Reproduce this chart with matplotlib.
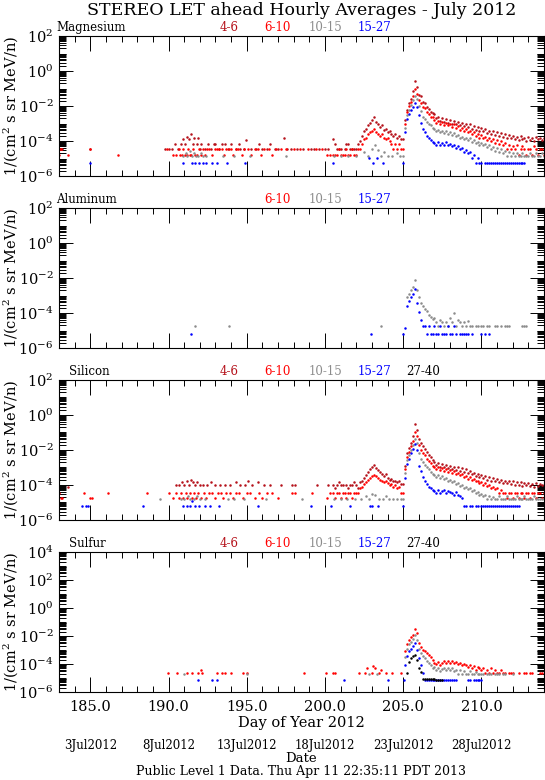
from __future__ import annotations

from datetime import date, timedelta
from pathlib import Path

import matplotlib

matplotlib.use("Agg")
import matplotlib.pyplot as plt
import numpy as np
from matplotlib.ticker import FixedLocator, FuncFormatter, NullFormatter
from matplotlib.transforms import blended_transform_factory


# ---- data: log10 of hourly-average intensity ----
X_RANGE = (183.0, 214.0)
MAJOR_DAYS = [185, 190, 195, 200, 205, 210]

PRE_START = 200.5     # dense pre-event stretch, 3-hour cadence
EVENT_START = 205.0   # main event stretch, 3-hour cadence
STEP = 0.125

ENERGY_LABELS = ["4-6", "6-10", "10-15", "15-27", "27-40"]
ENERGY_COLORS = ["#b5121b", "#ff0000", "#8c8c8c", "#0000ff", "#000000"]

# Magnesium
MG_46_BG = [(183.0, -4.46), (183.1, -4.46), (183.2, -4.46), (185.0, -4.46), (189.8, -4.46),
            (190.0, -4.46), (190.2, -4.46), (190.4, -4.15), (190.6, -4.46), (190.8, -4.15),
            (190.9, -3.9), (191.05, -4.15), (191.15, -3.75), (191.3, -3.9), (191.45, -3.6),
            (191.55, -4.15), (191.65, -3.8), (191.8, -4.15), (191.9, -3.85), (192.0, -4.46),
            (192.1, -4.15), (192.3, -4.46), (192.5, -4.15), (192.7, -4.46), (192.9, -4.15),
            (193.0, -4.15), (193.2, -4.46), (193.4, -4.15), (193.6, -4.15), (193.8, -4.46),
            (194.0, -4.15), (194.3, -4.46), (194.5, -4.15), (194.6, -4.46), (194.8, -4.46),
            (194.95, -3.95), (195.3, -4.46), (195.6, -4.46), (195.8, -4.15), (196.0, -4.46),
            (196.3, -4.46), (196.5, -4.15), (196.8, -4.46), (197.0, -4.46), (197.35, -3.8),
            (197.6, -4.46), (197.8, -4.46), (198.2, -4.46), (198.6, -4.46), (199.1, -4.46),
            (199.3, -4.46), (199.6, -4.46), (200.0, -4.46), (200.2, -4.46)]
MG_610_BG = [(183.0, -4.78), (183.05, -4.46), (183.15, -4.46), (183.6, -4.78), (185.0, -4.46),
             (186.8, -4.78), (189.9, -4.46), (190.3, -4.78), (190.5, -4.78), (190.65, -4.46),
             (190.75, -4.78), (190.85, -4.78), (190.95, -4.46), (191.05, -4.78), (191.15, -4.78),
             (191.25, -4.46), (191.35, -4.78), (191.45, -4.78), (191.55, -4.46), (191.7, -4.78),
             (191.8, -4.78), (191.95, -4.46), (192.05, -4.78), (192.2, -4.46), (192.35, -4.78),
             (192.45, -4.46), (192.6, -4.46), (192.8, -4.78), (192.95, -4.46), (193.1, -4.46),
             (193.25, -4.46), (193.4, -4.46), (193.55, -4.78), (193.7, -4.46), (193.85, -4.46),
             (194.0, -4.46), (194.15, -4.78), (194.3, -4.46), (194.45, -4.46), (194.7, -4.78),
             (194.85, -4.46), (195.1, -4.46), (195.3, -4.78), (195.5, -4.46), (195.75, -4.46),
             (195.9, -4.78), (196.1, -4.46), (196.4, -4.46), (196.6, -4.78), (196.9, -4.46),
             (197.2, -4.46), (197.5, -4.46), (198.0, -4.46), (198.4, -4.46), (198.9, -4.46),
             (199.4, -4.46), (199.8, -4.46), (200.1, -4.78), (200.3, -4.78)]
MG_1015_BG = [(190.9, -4.85), (191.1, -4.7), (191.2, -4.85), (191.4, -4.55), (191.5, -4.85),
              (191.6, -4.7), (191.75, -4.85), (191.9, -4.85), (192.05, -4.7), (192.2, -4.85),
              (192.4, -4.85), (193.5, -4.85), (194.2, -4.85), (195.2, -4.85), (197.5, -4.85),
              (200.6, -4.85), (201.0, -4.85), (201.5, -4.85), (202.0, -4.85), (202.5, -4.6),
              (202.75, -4.85), (203.0, -4.45), (203.2, -4.2), (203.4, -4.5), (203.6, -4.85),
              (203.8, -4.6), (204.0, -4.85), (204.3, -4.85), (204.6, -4.7), (204.8, -4.85)]
MG_1527_BG = [(185.0, -5.25), (190.9, -5.25), (191.5, -5.25), (191.7, -5.25), (191.95, -5.25),
              (192.2, -5.25), (192.4, -5.25), (192.8, -5.25), (193.1, -5.25), (193.75, -5.25),
              (194.9, -5.25), (200.5, -5.25), (202.8, -4.95), (203.1, -5.25), (203.3, -4.95),
              (203.7, -5.25)]
MG_46_PRE = [-3.9, -4.15, -4.46, -4.46, -4.46, None, -4.46, -4.15,
             -4.15, -4.46, -4.46, -4.46, -4.46, -4.15, -4.0, -3.7,
             -3.45, -3.3, -3.1, -2.95, -2.8, -2.65, -2.9, -3.0,
             -3.2, -3.1, -3.35, -3.3, -3.5, -3.4, -3.6, -3.7,
             -3.6, -3.8, -3.7, -3.9]
MG_610_PRE = [-4.78, -4.78, -4.78, -4.46, -4.78, -4.78, -4.78, -4.46,
              -4.78, -4.78, -4.46, -4.78, -4.78, -4.46, -4.46, -4.15,
              -3.9, -3.8, -3.6, -3.5, -3.4, -3.3, -3.5, -3.6,
              -3.7, -3.6, -3.8, -3.9, -3.8, -4.0, -4.15, -4.46,
              -4.15, -4.46, -4.15, -4.46]
MG_46_EVENT = [-3.9, -2.8, -2.2, -1.85, -1.6, -1.15, -0.55, -0.9,
               -1.35, -1.45, -1.75, -1.85, -2.05, -2.15, -2.35, -2.4,
               -2.45, -2.7, -2.6, -2.85, -2.7, -2.9, -2.75, -2.95,
               -2.8, -3.0, -2.85, -3.05, -2.9, -3.1, -2.95, -3.15,
               -3.0, -3.2, -3.05, -3.3, -3.15, -3.35, -3.2, -3.4,
               -3.25, -3.45, -3.3, -3.55, -3.4, -3.6, -3.45, -3.65,
               -3.5, -3.7, -3.55, -3.75, -3.6, -3.8, -3.65, -3.85,
               -3.7, -3.9, -3.75, -3.95, -3.7, -3.9, -3.8, -4.0,
               -3.75, -3.95, -3.8, -4.0, -3.75, -3.9, -3.8, -3.95,
               -3.85]
MG_610_EVENT = [-4.46, -3.0, -2.35, -2.0, -1.75, -1.4, -1.05, -1.3,
                -1.65, -1.8, -2.05, -2.1, -2.35, -2.45, -2.6, -2.65,
                -2.8, -2.95, -2.85, -3.05, -2.9, -3.1, -2.95, -3.1,
                -3.0, -3.2, -3.05, -3.25, -3.15, -3.35, -3.25, -3.45,
                -3.3, -3.5, -3.4, -3.6, -3.5, -3.7, -3.6, -3.8,
                -3.65, -3.85, -3.75, -3.95, -3.8, -4.0, -3.9, -4.1,
                -3.95, -4.15, -4.0, -4.2, -4.1, -4.46, -4.2, -4.46,
                -4.3, -4.46, -4.25, -4.78, -4.46, -4.3, -4.46, -4.78,
                -4.46, -4.46, -4.78, -4.3, -4.46, -4.78, -4.46, -4.46,
                -4.78]
MG_1015_EVENT = [-4.85, -3.25, -2.5, -2.2, -1.95, -1.65, -1.4, -1.6,
                 -2.0, -2.3, -2.6, -2.75, -2.9, -3.05, -3.1, -3.25,
                 -3.3, -3.45, -3.35, -3.5, -3.4, -3.55, -3.45, -3.6,
                 -3.5, -3.65, -3.55, -3.7, -3.65, -3.8, -3.75, -3.9,
                 -3.8, -3.95, -3.85, -4.05, -3.95, -4.1, -4.05, -4.2,
                 -4.1, -4.25, -4.15, -4.35, -4.25, -4.45, -4.35, -4.55,
                 -4.4, -4.6, -4.45, -4.7, -4.55, -4.85, -4.6, -4.85,
                 -4.7, -4.85, -4.7, -4.85, -4.85, -4.7, -4.85, -4.85,
                 -4.85, -4.7, -4.85, -4.85, -4.7, -4.85, -4.85, -4.7,
                 -4.85]
MG_1527_EVENT = [-5.25, -3.5, -2.75, -2.45, -2.25, -2.05, -1.8, -2.05,
                 -2.5, -2.95, -3.3, -3.5, -3.7, -3.85, -3.95, -4.05,
                 -4.1, -4.2, -4.05, -4.2, -4.1, -4.25, -4.05, -4.2,
                 -4.15, -4.3, -4.2, -4.4, -4.3, -4.45, -4.4, -4.6,
                 -4.5, -4.7, -4.6, -4.95, -4.8, -5.25, -4.95, -5.25,
                 -5.25, None, -5.25, -5.25, -5.25, -5.25, -5.25, -5.25,
                 -5.25, -5.25, -5.25, -5.25, -5.25, -5.25, -5.25, -5.25,
                 -5.25, -5.25, -5.25, -5.25, -5.25, -5.25, -5.25, None,
                 None, None, None, None, None, None, None, None,
                 None]

# Aluminum
AL_1015_BG = [(191.7, -4.77), (193.86, -4.77), (203.55, -4.77)]
AL_1527_BG = [(191.46, -5.19), (202.95, -5.19)]
AL_1015_EVENT = [None, None, -3.1, -2.9, -2.7, -2.5, -2.1, -2.7,
                 -3.1, -3.45, -3.6, -3.75, -3.9, -4.1, -4.2, -4.35,
                 -4.3, -4.5, -4.77, -4.4, -4.5, -4.77, -4.5, -4.77,
                 -4.3, -4.5, -4.0, -4.77, -4.4, -4.5, -4.77, -4.5,
                 -4.77, -4.45, -4.77, -4.77, None, -4.77, -4.77, None,
                 -4.77, -4.77, None, -4.77, -4.77, None, None, -4.77,
                 -4.77, None, -4.77, None, -4.77, -4.77, -4.77, None,
                 None, None, None, None, None, -4.77, -4.77, -4.77,
                 None, None, None, None, None, None, None, None,
                 None]
AL_1527_EVENT = [-5.19, -4.87, -3.6, -3.3, -3.1, -2.9, -2.65, -3.45,
                 -3.92, -4.4, -4.77, -4.77, -5.19, -4.77, -5.19, -5.19,
                 -4.77, -5.19, -5.19, -4.77, -5.19, -5.19, -5.19, -4.77,
                 -5.19, -5.19, -4.77, -5.19, None, -5.19, -5.19, -5.19,
                 -5.19, -5.19, None, -5.19, None, None, None, None,
                 -5.19, None, -5.19, None, -5.19, None, None, None]

# Silicon
SI_46_BG = [(183.6, -4.1), (190.5, -4.0), (190.7, -4.0), (190.85, -3.85), (191.0, -4.0),
            (191.15, -3.8), (191.3, -4.0), (191.45, -3.7), (191.55, -3.85), (191.7, -4.0),
            (191.85, -3.85), (192.0, -4.0), (192.2, -4.0), (192.45, -4.0), (192.7, -3.85),
            (192.95, -4.0), (193.3, -4.0), (193.6, -4.0), (193.9, -4.0), (194.3, -3.85),
            (194.6, -4.0), (194.9, -4.0), (195.1, -3.8), (195.35, -4.0), (195.7, -3.85),
            (196.1, -4.0), (196.5, -4.0), (197.2, -4.0), (197.9, -4.0), (198.1, -4.0),
            (199.5, -4.0), (200.2, -4.0)]
SI_610_BG = [(183.0, -4.45), (183.1, -4.76), (183.2, -4.76), (184.6, -4.45), (185.0, -4.76),
             (185.1, -4.76), (186.1, -4.45), (188.6, -4.45), (190.0, -4.45), (190.3, -4.76),
             (190.5, -4.45), (190.65, -4.76), (190.8, -4.45), (190.95, -4.76), (191.1, -4.45),
             (191.2, -4.76), (191.35, -4.45), (191.5, -4.76), (191.6, -4.45), (191.75, -4.76),
             (191.9, -4.45), (192.05, -4.76), (192.25, -4.45), (192.4, -4.76), (192.6, -4.45),
             (192.8, -4.45), (193.0, -4.76), (193.15, -4.45), (193.35, -4.45), (193.5, -4.76),
             (193.7, -4.45), (193.95, -4.45), (194.1, -4.76), (194.3, -4.45), (194.5, -4.45),
             (194.75, -4.76), (195.0, -4.45), (195.2, -4.45), (195.5, -4.76), (195.8, -4.45),
             (196.0, -4.76), (196.3, -4.45), (196.6, -4.45), (197.0, -4.76), (197.9, -4.45),
             (198.1, -4.45), (199.2, -4.45), (200.1, -4.76), (200.3, -4.45)]
SI_1015_BG = [(189.45, -4.8), (190.8, -4.8), (191.0, -4.8), (191.25, -4.65), (191.4, -4.8),
              (191.65, -4.8), (191.8, -4.65), (192.0, -4.8), (192.3, -4.8), (193.8, -4.8),
              (194.2, -4.8), (194.8, -4.8), (196.2, -4.8), (198.5, -4.8), (200.6, -4.8),
              (201.0, -4.8), (201.4, -4.8), (201.9, -4.8), (202.3, -4.8), (202.6, -4.65),
              (202.8, -4.8), (203.0, -4.5), (203.2, -4.6), (203.45, -4.8), (203.7, -4.8),
              (203.9, -4.65), (204.1, -4.8), (204.35, -4.8), (204.6, -4.8), (204.85, -4.8)]
SI_1527_BG = [(184.5, -5.22), (184.7, -5.22), (184.85, -5.22), (188.4, -5.22), (190.9, -5.22),
              (191.15, -5.22), (191.35, -5.22), (191.5, -4.9), (191.7, -5.22), (191.95, -5.22),
              (192.3, -5.22), (192.65, -5.22), (193.2, -5.22), (195.7, -5.22), (199.1, -5.22),
              (200.4, -5.22), (201.6, -5.22), (202.9, -5.22), (203.0, -5.22), (203.4, -5.22)]
SI_46_PRE = [-4.0, -4.15, -4.0, -3.85, -4.0, -4.0, None, -4.0,
             -4.15, -4.0, -4.0, -3.85, -4.0, -4.15, -3.85, -3.75,
             -3.6, -3.45, -3.25, -3.1, -3.0, -2.88, -3.05, -3.15,
             -3.27, -3.35, -3.5, -3.4, -3.6, -3.7, -3.65, -3.8,
             -3.75, -3.85, -3.8, -3.95]
SI_610_PRE = [-4.45, -4.76, -4.45, -4.45, -4.76, -4.45, -4.45, -4.76,
              -4.45, -4.45, -4.76, -4.45, -4.45, -4.45, -4.2, -4.1,
              -3.95, -3.85, -3.7, -3.6, -3.5, -3.45, -3.5, -3.6,
              -3.7, -3.75, -3.85, -3.8, -3.9, -4.0, -3.95, -4.1,
              -4.0, -4.2, -4.1, -4.45]
SI_46_EVENT = [-3.95, -2.9, -2.2, -1.9, -1.6, -1.2, -0.5, -0.85,
               -1.4, -1.6, -1.75, -1.95, -2.1, -2.3, -2.4, -2.6,
               -2.7, -2.85, -2.75, -2.95, -2.8, -3.0, -2.85, -3.05,
               -2.9, -3.1, -2.95, -3.15, -3.0, -3.2, -3.05, -3.25,
               -3.1, -3.3, -3.2, -3.4, -3.3, -3.5, -3.35, -3.55,
               -3.45, -3.6, -3.5, -3.7, -3.55, -3.75, -3.6, -3.8,
               -3.65, -3.85, -3.7, -3.9, -3.75, -3.9, -3.8, -3.95,
               -3.8, -4.0, -3.85, -4.0, -3.85, -4.05, -3.9, -4.0,
               -3.9, -4.05, -3.95, -4.1, -3.9, -4.05, -3.95, -4.0,
               -4.0]
SI_610_EVENT = [-4.45, -3.1, -2.4, -2.1, -1.8, -1.5, -1.0, -1.2,
                -1.7, -2.0, -2.15, -2.3, -2.5, -2.65, -2.75, -2.9,
                -3.0, -3.1, -3.0, -3.15, -3.05, -3.2, -3.1, -3.25,
                -3.15, -3.3, -3.2, -3.35, -3.3, -3.45, -3.4, -3.55,
                -3.5, -3.65, -3.55, -3.7, -3.65, -3.8, -3.75, -3.9,
                -3.85, -4.0, -3.9, -4.05, -4.0, -4.15, -4.1, -4.25,
                -4.2, -4.45, -4.3, -4.45, -4.45, -4.76, -4.45, -4.45,
                -4.76, -4.45, -4.45, -4.76, -4.45, -4.45, -4.76, -4.45,
                -4.45, -4.76, -4.45, -4.45, -4.76, -4.45, -4.45, -4.76,
                -4.45]
SI_1015_EVENT = [-4.8, -3.3, -2.6, -2.3, -2.0, -1.7, -1.35, -1.6,
                 -2.2, -2.5, -2.7, -2.85, -2.95, -3.1, -3.25, -3.35,
                 -3.45, -3.55, -3.45, -3.6, -3.5, -3.65, -3.6, -3.75,
                 -3.7, -3.85, -3.8, -3.95, -3.9, -4.05, -4.0, -4.15,
                 -4.1, -4.25, -4.2, -4.35, -4.3, -4.45, -4.4, -4.55,
                 -4.5, -4.65, -4.55, -4.8, -4.65, -4.8, -4.7, -4.8,
                 -4.8, -4.65, -4.8, -4.8, -4.8, -4.65, -4.8, -4.8,
                 -4.8, -4.8, -4.65, -4.8, -4.8, -4.8, -4.65, -4.8,
                 -4.8, -4.8, -4.8, -4.65, -4.8, -4.8, -4.8, -4.8,
                 -4.8]
SI_1527_EVENT = [-5.22, -3.6, -2.8, -2.5, -2.2, -1.95, -1.65, -2.0,
                 -2.9, -3.2, -3.55, -3.75, -3.95, -4.1, -4.2, -4.3,
                 -4.35, -4.45, -4.3, -4.45, -4.35, -4.3, -4.45, -4.35,
                 -4.4, -4.45, -4.55, -4.4, -4.55, -4.65, -4.75, -5.22,
                 -5.22, None, -5.22, -5.22, None, -5.22, -5.22, None,
                 -5.22, -5.22, -5.22, -5.22, -5.22, -5.22, -5.22, -5.22,
                 -5.22, -5.22, -5.22, -5.22, -5.22, -5.22, -5.22, -5.22,
                 -5.22, -5.22, -5.22, -5.22, None, None, None, None]

# Sulfur
S_610_BG = [(189.96, -4.67), (190.57, -4.67), (191.2, -4.67), (191.5, -4.67), (191.9, -4.67),
            (192.05, -4.4), (192.15, -4.67), (193.1, -4.67), (193.4, -4.67), (193.6, -4.67),
            (194.0, -4.67), (194.75, -4.67), (195.0, -4.67), (198.65, -4.67), (200.06, -4.67),
            (200.5, -4.67), (200.64, -4.67), (202.2, -4.67), (202.55, -4.67), (202.66, -4.3),
            (202.98, -4.67), (203.09, -4.12), (203.2, -4.3), (203.47, -4.67), (203.55, -4.4),
            (203.9, -4.67), (204.26, -4.67), (204.85, -4.67)]
S_1015_BG = [(190.97, -4.7), (195.0, -4.7), (202.8, -4.7), (203.3, -4.7)]
S_1527_BG = [(191.9, -5.14), (192.8, -5.14), (193.1, -5.14), (201.2, -5.14), (204.0, -5.14),
             (205.05, -5.14)]
S_610_EVENT = [None, -3.1, -2.6, -2.3, -2.1, -1.9, -1.5, -1.8,
               -2.5, -2.8, -3.0, -3.05, -3.2, -3.35, -3.5, -3.7,
               -3.9, -4.0, -3.85, -4.05, -3.9, -3.8, -3.95, -3.8,
               -3.9, -3.75, -3.95, -3.85, -4.0, -3.9, -4.1, -4.0,
               -4.05, -4.2, -4.1, -4.3, -4.15, -4.4, -4.2, -4.3,
               -4.4, -4.3, -4.67, -4.4, -4.67, -4.3, -4.67, -4.4,
               -4.67, -4.67, -4.4, -4.67, -4.67, None, -4.67, -4.67,
               -4.67, None, None, -4.67, None, None, -4.67, -4.67,
               None, -4.67, -4.67, None, None, None, -4.67, -4.67,
               None]
S_1015_EVENT = [None, -3.5, -2.9, -2.6, -2.4, -2.2, -1.95, -2.3,
                -2.9, -3.2, -3.4, -3.6, -3.8, -3.9, -4.1, -4.3,
                -4.2, -4.4, -4.3, -4.5, -4.35, -4.3, -4.45, -4.3,
                -4.4, -4.3, -4.5, -4.4, -4.7, -4.45, -4.7, -4.5,
                -4.7, -4.7, -4.5, -4.7, -4.7, -4.55, -4.7, -4.7,
                -4.7, -4.7, None, -4.7, -4.7, -4.7, None, -4.7,
                -4.7, -4.7, None, -4.7, -4.7, None, None, None,
                -4.7]
S_1527_EVENT = [None, -4.1, -3.4, -3.1, -2.9, -2.7, -2.5, -3.0,
                -3.6, -4.1, -4.67, -5.14, -5.14, -5.14, -5.14, -5.14,
                -5.14, -5.14, -5.14, -5.14, -5.14, -5.14, -5.14, -5.14,
                -5.14, -5.14, -5.14, -5.14, None, None, None, None,
                None, -5.14, -5.14, None, -5.14, -5.14, -5.14, -5.14,
                -5.14]
S_2740_EVENT = [None, None, -4.67, -3.85, -3.6, -3.45, -3.36, -3.7,
                -4.3, -4.6, -5.07, -5.07, -5.07, -5.07, -5.07, -5.07,
                -5.07, -5.14, -5.14, -5.14, -5.14]

ELEMENTS = ["Magnesium", "Aluminum", "Silicon", "Sulfur"]
Y_DECADES = [(-6, 2), (-6, 2), (-6, 2), (-6, 4)]
SHOWN_ENERGIES = [[0, 1, 2, 3], [1, 2, 3], [0, 1, 2, 3, 4], [0, 1, 2, 3, 4]]

# per panel, per energy channel: (background points, pre-event run, event run)
PANEL_SERIES = [
    {0: (MG_46_BG, MG_46_PRE, MG_46_EVENT), 1: (MG_610_BG, MG_610_PRE, MG_610_EVENT),
     2: (MG_1015_BG, None, MG_1015_EVENT), 3: (MG_1527_BG, None, MG_1527_EVENT)},
    {2: (AL_1015_BG, None, AL_1015_EVENT), 3: (AL_1527_BG, None, AL_1527_EVENT)},
    {0: (SI_46_BG, SI_46_PRE, SI_46_EVENT), 1: (SI_610_BG, SI_610_PRE, SI_610_EVENT),
     2: (SI_1015_BG, None, SI_1015_EVENT), 3: (SI_1527_BG, None, SI_1527_EVENT)},
    {1: (S_610_BG, None, S_610_EVENT), 2: (S_1015_BG, None, S_1015_EVENT),
     3: (S_1527_BG, None, S_1527_EVENT), 4: ([], None, S_2740_EVENT)},
]

FONT = "DejaVu Serif"


def doy_label(doy: int) -> str:
    d = date(2012, 1, 1) + timedelta(days=doy - 1)
    return f"{d.day}{d.strftime('%b')}{d.year}"


def collect_points(bg, pre, event) -> tuple[np.ndarray, np.ndarray]:
    days, logs = [], []
    if bg:
        bd, bl = zip(*bg)
        days.extend(bd)
        logs.extend(bl)
    for start, run in ((PRE_START, pre), (EVENT_START, event)):
        if run is None:
            continue
        d = start + STEP * np.arange(len(run))
        days.extend(d)
        logs.extend(run)
    logs = np.array(logs, dtype=float)
    days = np.array(days, dtype=float)
    keep = ~np.isnan(logs)
    return days[keep], 10.0 ** logs[keep]


def style_axes(ax, lo: int, hi: int, bottom: bool) -> None:
    ax.set_xlim(*X_RANGE)
    ax.set_yscale("log")
    ax.set_ylim(10.0 ** lo, 10.0 ** hi)

    ax.xaxis.set_major_locator(FixedLocator(MAJOR_DAYS))
    ax.xaxis.set_minor_locator(FixedLocator(np.arange(184, 214)))
    if bottom:
        ax.xaxis.set_major_formatter(FuncFormatter(lambda v, _: f"{v:.1f}"))
    else:
        ax.xaxis.set_major_formatter(NullFormatter())

    majors = [10.0 ** e for e in range(lo, hi + 1, 2)]
    minors = [m * 10.0 ** e for e in range(lo, hi) for m in range(1, 10)
              if not (m == 1 and (e - lo) % 2 == 0)]
    ax.yaxis.set_major_locator(FixedLocator(majors))
    ax.yaxis.set_minor_locator(FixedLocator(minors))
    ax.yaxis.set_major_formatter(
        FuncFormatter(lambda v, _: f"$10^{{{int(round(np.log10(v)))}}}$"))
    ax.yaxis.set_minor_formatter(NullFormatter())

    ax.tick_params(which="both", direction="in", top=True, right=True,
                   width=0.7, labelsize=10.5, pad=4)
    ax.tick_params(axis="x", which="major", length=11, pad=6)
    ax.tick_params(axis="x", which="minor", length=4.5)
    ax.tick_params(axis="y", which="major", length=10)
    ax.tick_params(axis="y", which="minor", length=5)
    for label in ax.get_xticklabels() + ax.get_yticklabels():
        label.set_family(FONT)
    for spine in ax.spines.values():
        spine.set_linewidth(0.8)

    ax.set_ylabel("1/(cm$^2$ s sr MeV/n)", family=FONT, fontsize=10.5)
    ax.yaxis.set_label_coords(-0.08, 0.5)


def main() -> None:
    plt.rcParams["mathtext.fontset"] = "dejavuserif"
    fig = plt.figure(figsize=(5.45, 7.80), dpi=100)
    W, H = 545.0, 780.0
    left, width, height = 59 / W, 485 / W, 140 / H

    axes = []
    for i, name in enumerate(ELEMENTS):
        top_px = 36 + 172 * i
        ax = fig.add_axes([left, 1 - (top_px + 140) / H, width, height])
        lo, hi = Y_DECADES[i]
        style_axes(ax, lo, hi, bottom=(i == len(ELEMENTS) - 1))

        for k in sorted(PANEL_SERIES[i]):
            days, flux = collect_points(*PANEL_SERIES[i][k])
            ax.plot(days, flux, linestyle="none", marker="o", ms=1.8,
                    mew=0, color=ENERGY_COLORS[k], clip_on=True)

        name_x = -0.006 if i < 2 else 0.02
        ax.text(name_x, 1.012, name, transform=ax.transAxes, ha="left",
                va="bottom", family=FONT, fontsize=8.5)
        for k in SHOWN_ENERGIES[i]:
            ax.text(0.35 + 0.1 * k, 1.012, ENERGY_LABELS[k], transform=ax.transAxes,
                    ha="center", va="bottom", family=FONT, fontsize=8.5,
                    color=ENERGY_COLORS[k])
        axes.append(ax)

    bottom_ax = axes[-1]
    bottom_ax.set_xlabel("Day of Year 2012", family=FONT, fontsize=10.5, labelpad=1)
    trans = blended_transform_factory(bottom_ax.transData, bottom_ax.transAxes)
    for doy in MAJOR_DAYS:
        bottom_ax.text(doy, (692 - 745) / 140, doy_label(doy), transform=trans,
                       ha="center", va="center", family=FONT, fontsize=8.5)

    cx = (59 + 544) / 2 / W
    fig.text(cx, 1 - 15 / H, "STEREO LET ahead Hourly Averages - July 2012",
             ha="center", va="baseline", family=FONT, fontsize=12.5)
    fig.text(cx, 1 - 758 / H, "Date", ha="center", va="center", family=FONT, fontsize=9.5)
    fig.text(cx, 1 - 772 / H, "Public Level 1 Data. Thu Apr 11 22:35:11 PDT 2013",
             ha="center", va="center", family=FONT, fontsize=9)

    output_path = Path("out.png")
    fig.savefig(output_path, dpi=100)
    plt.close(fig)


if __name__ == "__main__":
    main()
